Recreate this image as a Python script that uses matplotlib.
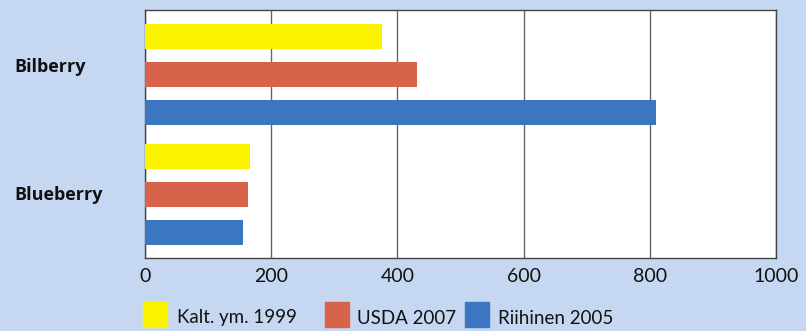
import matplotlib
matplotlib.use("Agg")
import matplotlib.pyplot as plt
from matplotlib.patches import Rectangle

categories = ["Bilberry", "Blueberry"]
series_names = ["Kalt. ym. 1999", "USDA 2007", "Riihinen 2005"]
kalt = [376, 166]
usda = [431, 164]
riihinen = [810, 155]
xticks = [0, 200, 400, 600, 800, 1000]
colors = ["#fbf200", "#d6634a", "#3b76c0"]

W, H = 806, 331
fig = plt.figure(figsize=(W / 100, H / 100), dpi=100)
bg = "#c6d8f1"
fig.patch.set_facecolor(bg)
plt.rcParams['font.family'] = ['Lato', 'DejaVu Sans']

ax = fig.add_axes([145 / W, 1 - 258 / H, 631 / W, 248 / H])
ax.set_facecolor("white")

offsets = [-0.315, 0.0, 0.315]
for si, vals in enumerate([kalt, usda, riihinen]):
    ys = [g + offsets[si] for g in range(len(categories))]
    ax.barh(ys, vals, height=0.21, color=colors[si], zorder=3)

ax.set_xlim(0, 1000)
ax.set_ylim(1.529, -0.5375)
ax.set_xticks(xticks)
ax.set_xticklabels([str(t) for t in xticks], fontsize=14, color="#111111")
ax.tick_params(axis='x', length=0, pad=7)
ax.set_yticks([])
ax.grid(axis='x', color="#666666", linewidth=1.0, zorder=1)
for s in ax.spines.values():
    s.set_color("#444444")
    s.set_linewidth(1.0)

for gi, c in enumerate(categories):
    ypx = [67, 195][gi]
    fig.text(14 / W, 1 - ypx / H, c, fontsize=13, fontweight='bold',
             va='center', ha='left', color="#111111",
             family=['Open Sans', 'DejaVu Sans'])

# legend
leg = [(143, 177), (325, 357), (465, 498)]
for (sx, tx), name, col in zip(leg, series_names, colors):
    fig.patches.append(Rectangle((sx / W, 1 - 327 / H), 24 / W, 25 / H,
                                 transform=fig.transFigure, color=col))
    fig.text(tx / W, 1 - 318 / H, name, fontsize=13.5, va='center',
             ha='left', color="#111111")

fig.savefig("out.png", dpi=100, facecolor=bg)
